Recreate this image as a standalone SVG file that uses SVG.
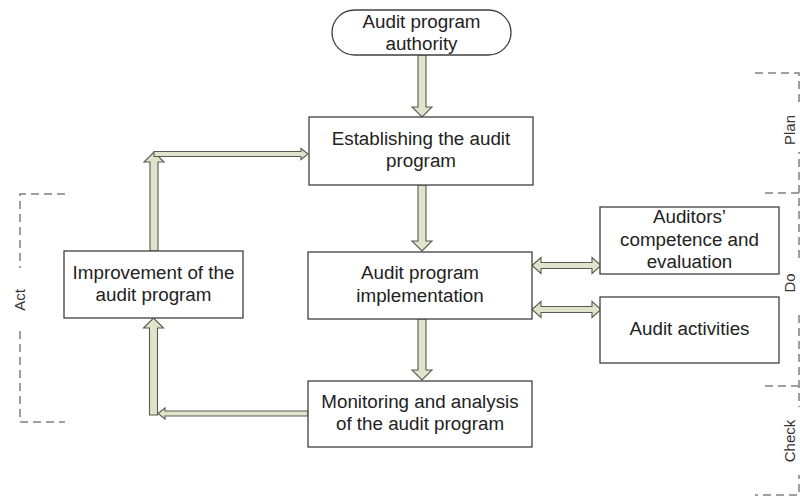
<svg xmlns="http://www.w3.org/2000/svg" width="800" height="497" viewBox="0 0 800 497">
  <style>
    .box { fill: #ffffff; stroke: #404040; stroke-width: 1.3; }
    .lbl { font-family: "Liberation Sans", Arial, sans-serif; font-size: 18.8px; fill: #222222; text-anchor: middle; }
    .phase { font-family: "Liberation Sans", Arial, sans-serif; font-size: 15px; fill: #333333; text-anchor: middle; }
    .arrow { fill: #e0e4cc; stroke: #5a5a4e; stroke-width: 1.1; stroke-linejoin: miter; }
    .dash { fill: none; stroke: #808080; stroke-width: 1.5; stroke-dasharray: 8 5; }
    .mask { fill: #ffffff; stroke: none; }
  </style>

  <rect width="800" height="497" fill="#ffffff"/>

  <!-- PDCA phase brackets -->
  <g id="phases">
    <path class="dash" d="M65,194 H20 V422 H65"/>
    <rect class="mask" x="12" y="268" width="16" height="60"/>
    <text class="phase" transform="translate(25,300) rotate(-90)">Act</text>

    <path class="dash" d="M755,73 H799 V495 H755"/>
    <path class="dash" d="M765,193 H799"/>
    <path class="dash" d="M765,386 H799"/>
    <rect class="mask" x="783" y="104" width="17" height="48"/>
    <rect class="mask" x="783" y="262" width="17" height="48"/>
    <rect class="mask" x="783" y="407" width="17" height="68"/>
    <text class="phase" transform="translate(795,130) rotate(-90)">Plan</text>
    <text class="phase" transform="translate(795,283) rotate(-90)">Do</text>
    <text class="phase" transform="translate(795,441) rotate(-90)">Check</text>
  </g>

  <!-- connectors -->
  <g id="connectors">
    <!-- authority -> establishing -->
    <polygon class="arrow" points="418,55 426,55 426,107 432,107 422,117 412,107 418,107"/>
    <!-- establishing -> implementation -->
    <polygon class="arrow" points="418,185 426,185 426,241 432,241 422,251 412,241 418,241"/>
    <!-- implementation -> monitoring -->
    <polygon class="arrow" points="418,319 426,319 426,370 432,370 422,380 412,370 418,370"/>
    <!-- implementation <-> auditors' competence -->
    <polygon class="arrow" points="532,265.5 541,257.5 541,262.5 592,262.5 592,257.5 601,265.5 592,273.5 592,268.5 541,268.5 541,273.5"/>
    <!-- implementation <-> audit activities -->
    <polygon class="arrow" points="532,309.5 541,301.5 541,306.5 592,306.5 592,301.5 601,309.5 592,317.5 592,312.5 541,312.5 541,317.5"/>
    <!-- monitoring -> improvement (elbow) -->
    <polygon class="arrow" points="308,411 165,411 165,408 158,413.5 165,419 165,416 308,416"/>
    <polygon class="arrow" points="149.5,415 157.5,415 157.5,328 163.5,328 153.5,318 143.5,328 149.5,328"/>
    <!-- improvement -> establishing (elbow) -->
    <polygon class="arrow" points="150,251 158,251 158,162 164,162 154,152 144,162 150,162"/>
    <polygon class="arrow" points="154,151.5 301,151.5 301,148.5 308,154 301,159.5 301,156.5 154,156.5"/>
  </g>

  <g id="authority">
    <rect class="box" x="332" y="10" width="179" height="45" rx="22.5" ry="22.5"/>
    <text class="lbl" x="421.5" y="28">Audit program</text>
    <text class="lbl" x="421.5" y="50">authority</text>
  </g>

  <g id="establishing">
    <rect class="box" x="309" y="117" width="224" height="68"/>
    <text class="lbl" x="421" y="145">Establishing the audit</text>
    <text class="lbl" x="421" y="167">program</text>
  </g>

  <g id="implementation">
    <rect class="box" x="308" y="252" width="224" height="67"/>
    <text class="lbl" x="420" y="279">Audit program</text>
    <text class="lbl" x="420" y="302">implementation</text>
  </g>

  <g id="monitoring">
    <rect class="box" x="308" y="381" width="224" height="66"/>
    <text class="lbl" x="420" y="408">Monitoring and analysis</text>
    <text class="lbl" x="420" y="430">of the audit program</text>
  </g>

  <g id="improvement">
    <rect class="box" x="64" y="251" width="179" height="67"/>
    <text class="lbl" x="153.5" y="279">Improvement of the</text>
    <text class="lbl" x="153.5" y="301">audit program</text>
  </g>

  <g id="competence">
    <rect class="box" x="600" y="207" width="179" height="67"/>
    <text class="lbl" x="689.5" y="223">Auditors’</text>
    <text class="lbl" x="689.5" y="246">competence and</text>
    <text class="lbl" x="689.5" y="268">evaluation</text>
  </g>

  <g id="activities">
    <rect class="box" x="600" y="297" width="179" height="66"/>
    <text class="lbl" x="689.5" y="335">Audit activities</text>
  </g>
</svg>
